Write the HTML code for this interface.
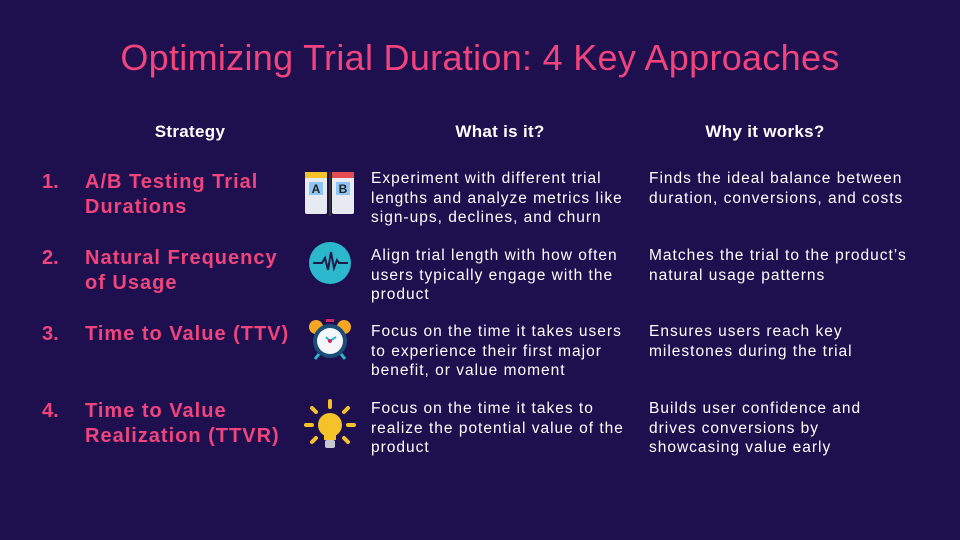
<!DOCTYPE html>
<html><head><style>
body{margin:0;width:960px;height:540px;background:#1e0f4f;font-family:"Liberation Sans",sans-serif;color:#fff;position:relative;overflow:hidden}
.t{position:absolute;left:0;width:960px;text-align:center;top:37px;font-size:36px;letter-spacing:0.3px;color:#f0447c}
.h{position:absolute;top:122px;font-size:17px;font-weight:bold;text-align:center;letter-spacing:0.3px}
.n{position:absolute;left:42px;font-size:20px;font-weight:bold;color:#f0447c}
.s{position:absolute;left:85px;font-size:20px;font-weight:bold;color:#f0447c;line-height:25px;letter-spacing:1px}
.w{position:absolute;font-size:15.5px;line-height:19.5px;letter-spacing:1px;white-space:nowrap}
svg{position:absolute}
</style></head><body>
<div class="t">Optimizing Trial Duration: 4 Key Approaches</div>
<div class="h" style="left:110px;width:160px">Strategy</div>
<div class="h" style="left:420px;width:160px">What is it?</div>
<div class="h" style="left:685px;width:160px">Why it works?</div>

<div class="n" style="top:171px">1.</div><div class="s" style="top:170px">A/B Testing Trial<br>Durations</div>
<div class="w" style="left:371px;top:169px">Experiment with different trial<br>lengths and analyze metrics like<br>sign-ups, declines, and churn</div>
<div class="w" style="left:649px;top:169px">Finds the ideal balance between<br>duration, conversions, and costs</div>

<div class="n" style="top:247px">2.</div><div class="s" style="top:246px">Natural Frequency<br>of Usage</div>
<div class="w" style="left:371px;top:246px">Align trial length with how often<br>users typically engage with the<br>product</div>
<div class="w" style="left:649px;top:246px">Matches the trial to the product’s<br>natural usage patterns</div>

<div class="n" style="top:323px">3.</div><div class="s" style="top:322px">Time to Value (TTV)</div>
<div class="w" style="left:371px;top:322px">Focus on the time it takes users<br>to experience their first major<br>benefit, or value moment</div>
<div class="w" style="left:649px;top:322px">Ensures users reach key<br>milestones during the trial</div>

<div class="n" style="top:400px">4.</div><div class="s" style="top:399px">Time to Value<br>Realization (TTVR)</div>
<div class="w" style="left:371px;top:399px">Focus on the time it takes to<br>realize the potential value of the<br>product</div>
<div class="w" style="left:649px;top:399px">Builds user confidence and<br>drives conversions by<br>showcasing value early</div>

<svg style="left:305px;top:172px" width="50" height="44" viewBox="0 0 50 44">
<rect x="0" y="0" width="22" height="42" rx="2" fill="#e8eaf2"/><rect x="0" y="0" width="22" height="6" fill="#f5c22a"/>
<rect x="27" y="0" width="22" height="42" rx="2" fill="#e8eaf2"/><rect x="27" y="0" width="22" height="6" fill="#e84a52"/>
<rect x="4" y="10" width="14" height="13" fill="#8ec5f5"/><rect x="31" y="10" width="14" height="13" fill="#8ec5f5"/>
<text x="11" y="21" font-size="12" font-weight="bold" text-anchor="middle" fill="#222" font-family="Liberation Sans">A</text>
<text x="38" y="21" font-size="12" font-weight="bold" text-anchor="middle" fill="#222" font-family="Liberation Sans">B</text>
<rect x="24" y="-2" width="2" height="46" fill="#333"/>
</svg>
<svg style="left:308px;top:241px" width="44" height="44"><circle cx="22" cy="22" r="21" fill="#2bb8cc"/><path d="M5 22h9l3-5 3 12 3-18 3 16 3-8 2 3h9" stroke="#1e1a4a" stroke-width="2" fill="none"/></svg>
<svg style="left:307px;top:318px" width="46" height="44"><circle cx="9" cy="9" r="7" fill="#f5a623"/><circle cx="37" cy="9" r="7" fill="#f5a623"/><rect x="19" y="1" width="8" height="3" fill="#d02860"/><circle cx="23" cy="23" r="17" fill="#1a4e78"/><circle cx="23" cy="23" r="13" fill="#f4f6fa"/><path d="M23 23l-4-4M23 23l6-4" stroke="#2bb8cc" stroke-width="2"/><circle cx="23" cy="23" r="2" fill="#d02860"/><path d="M12 36l-4 5M34 36l4 5" stroke="#2bb8cc" stroke-width="3"/></svg>
<svg style="left:302px;top:398px" width="56" height="54"><g stroke="#f5c22a" stroke-width="4" stroke-linecap="round"><path d="M28 3v6M10 10l4 4M46 10l-4 4M4 27h6M46 27h6M10 44l4-4M46 44l-4-4"/></g><circle cx="28" cy="27" r="12" fill="#f5c22a"/><rect x="22" y="36" width="12" height="6" fill="#f5c22a"/><rect x="23" y="42" width="10" height="8" rx="2" fill="#c8c8d0"/></svg>
</body></html>
